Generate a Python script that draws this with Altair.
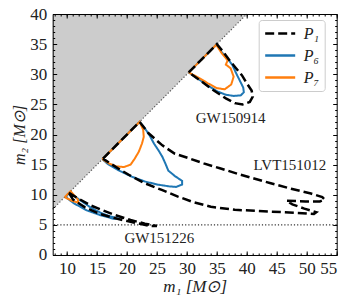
import altair as alt
import pandas as pd

# ---------------- data ----------------
X_DOMAIN = [7.6, 55]
Y_DOMAIN = [0, 40]
X_MAJOR = [10, 15, 20, 25, 30, 35, 40, 45, 50, 55]
Y_MAJOR = [0, 5, 10, 15, 20, 25, 30, 35, 40]
X_MINOR = list(range(8, 56))
Y_MINOR = list(range(0, 41))

series_names = ["P₁", "P₆", "P₇"]
series_colors = ["black", "#1f77b4", "#ff7f0e"]

# GW150914
P1_GW150914_m1 = [30.3, 35.0, 36.0, 37.2, 38.2, 39.2, 40.0, 40.8, 41.0, 40.5, 39.3, 38.0, 36.5, 34.5, 32.3, 30.3]
P1_GW150914_m2 = [30.3, 35.0, 33.8, 32.2, 31.0, 29.8, 28.5, 27.3, 26.3, 25.4, 25.0, 25.2, 26.0, 27.3, 28.9, 30.3]
P6_GW150914_m1 = [30.3, 35.0, 35.7, 36.8, 37.6, 38.2, 38.8, 39.4, 39.5, 39.0, 37.8, 36.5, 35.2, 33.5, 31.8, 30.3]
P6_GW150914_m2 = [30.3, 35.0, 33.8, 32.6, 31.5, 30.2, 29.0, 27.8, 27.0, 26.5, 26.4, 26.6, 27.1, 28.1, 29.3, 30.3]
P7_GW150914_m1 = [30.3, 34.9, 35.8, 36.8, 36.5, 37.3, 37.8, 37.4, 36.3, 35.0, 33.5, 32.0, 30.3]
P7_GW150914_m2 = [30.3, 34.9, 33.5, 32.3, 31.6, 31.0, 29.6, 28.3, 27.5, 27.7, 28.5, 29.4, 30.3]

# LVT151012
P1_LVT151012_m1 = [16.0, 22.1, 23.6, 25.9, 28.0, 30.5, 32.8, 35.5, 38.4, 41.2, 44.0, 47.4, 50.7, 52.6, 53.0, 52.2,
                   49.8, 46.6, 47.6, 49.6, 51.6, 51.2, 50.0, 46.0, 42.0, 38.0, 34.0, 31.0, 28.5, 25.8, 23.0, 20.5,
                   18.8, 17.2, 16.0]
P1_LVT151012_m2 = [16.0, 22.1, 20.2, 18.2, 16.8, 16.0, 15.2, 14.4, 13.5, 12.7, 11.9, 11.0, 10.2, 9.6, 9.2, 8.9,
                   8.9, 9.0, 8.4, 7.7, 7.1, 6.8, 6.9, 7.1, 7.3, 7.5, 8.0, 8.8, 9.7, 10.8, 11.9, 13.2,
                   14.2, 15.2, 16.0]
P6_LVT151012_m1 = [15.9, 22.1, 23.0, 23.8, 24.5, 25.3, 25.9, 26.4, 26.9, 28.0, 29.2, 29.2, 28.2, 27.0, 25.0, 23.0,
                   20.8, 18.5, 16.8, 15.9]
P6_LVT151012_m2 = [15.9, 22.1, 21.0, 19.8, 18.5, 17.3, 16.3, 15.2, 14.0, 13.1, 12.3, 11.7, 11.3, 11.4, 11.7, 12.2,
                   13.0, 14.1, 15.1, 15.9]
P7_LVT151012_m1 = [15.9, 22.1, 22.7, 22.8, 22.5, 22.0, 21.3, 20.6, 19.5, 18.2, 17.0, 15.9]
P7_LVT151012_m2 = [15.9, 22.1, 20.8, 19.6, 18.5, 17.2, 16.0, 15.0, 14.6, 14.7, 15.2, 15.9]

# GW151226
P1_GW151226_m1 = [10.3, 12.0, 14.0, 15.5, 17.8, 20.6, 23.0, 25.0, 24.0, 21.1, 18.4, 15.5, 13.0, 11.0, 10.3]
P1_GW151226_m2 = [10.3, 9.3, 8.2, 7.6, 6.7, 5.8, 5.2, 4.8, 4.8, 5.4, 6.0, 6.8, 7.9, 9.2, 10.3]
P6_GW151226_m1 = [10.4, 11.9, 13.9, 15.6, 17.2, 18.8, 17.8, 15.6, 13.3, 11.1, 9.8, 10.4]
P6_GW151226_m2 = [10.4, 9.3, 7.9, 7.0, 6.4, 6.0, 6.0, 6.6, 7.4, 8.6, 9.6, 10.4]
P7_GW151226_m1 = [9.6, 10.6, 11.1, 11.8, 11.9, 10.8, 9.6]
P7_GW151226_m2 = [9.6, 10.6, 10.0, 9.2, 8.7, 9.0, 9.6]

label_text = ["GW150914", "LVT151012", "GW151226"]
label_m1 = [37.3, 47.2, 25.4]
label_m2 = [22.8, 14.9, 2.9]

diag_m = [7.6, 40.0]
fill_top = [40.0, 40.0]
hline_m2 = [5.0]

# ---------------- tables ----------------
contours = [
    ("P₁", "GW150914", P1_GW150914_m1, P1_GW150914_m2),
    ("P₆", "GW150914", P6_GW150914_m1, P6_GW150914_m2),
    ("P₇", "GW150914", P7_GW150914_m1, P7_GW150914_m2),
    ("P₁", "LVT151012", P1_LVT151012_m1, P1_LVT151012_m2),
    ("P₆", "LVT151012", P6_LVT151012_m1, P6_LVT151012_m2),
    ("P₇", "LVT151012", P7_LVT151012_m1, P7_LVT151012_m2),
    ("P₁", "GW151226", P1_GW151226_m1, P1_GW151226_m2),
    ("P₆", "GW151226", P6_GW151226_m1, P6_GW151226_m2),
    ("P₇", "GW151226", P7_GW151226_m1, P7_GW151226_m2),
]
rows = []
for s, ev, xs, ys in contours:
    for i, (a, b) in enumerate(zip(xs, ys)):
        rows.append({"series": s, "event": ev, "idx": i, "m1": a, "m2": b})
cdf = pd.DataFrame(rows)
lab_df = pd.DataFrame({"text": label_text, "m1": label_m1, "m2": label_m2})
diag_df = pd.DataFrame({"m1": diag_m, "m2": diag_m, "top": fill_top})
h_df = pd.DataFrame({"m2": hline_m2})

xs_ = alt.Scale(domain=X_DOMAIN, nice=False, zero=False)
ys_ = alt.Scale(domain=Y_DOMAIN, nice=False, zero=False)
FONT = "Liberation Serif"

color = alt.Color("series:N", scale=alt.Scale(domain=series_names, range=series_colors),
                  legend=alt.Legend(title=None))
dash = alt.StrokeDash("series:N", scale=alt.Scale(domain=series_names, range=[[9, 4], [1, 0], [1, 0]]),
                      legend=alt.Legend(title=None))

fill = alt.Chart(diag_df).mark_area(color="#cccccc", opacity=1).encode(
    x=alt.X("m1:Q", scale=xs_, axis=None),
    y=alt.Y("m2:Q", scale=ys_, axis=None),
    y2="top:Q",
)
diag = alt.Chart(diag_df).mark_line(color="#555555", strokeDash=[1.2, 2], strokeWidth=1.2).encode(
    x=alt.X("m1:Q", scale=xs_, axis=None),
    y=alt.Y("m2:Q", scale=ys_, axis=None),
)
hline = alt.Chart(h_df).mark_rule(color="#333333", strokeDash=[1.2, 2], strokeWidth=1.2).encode(
    y=alt.Y("m2:Q", scale=ys_, axis=None),
)
colored = alt.Chart(cdf).transform_filter(alt.datum.series != "P₁").mark_line(strokeWidth=2).encode(
    x=alt.X("m1:Q", scale=xs_, axis=None),
    y=alt.Y("m2:Q", scale=ys_, axis=None),
    color=color, strokeDash=dash, detail="event:N", order="idx:Q",
)
black = alt.Chart(cdf).transform_filter(alt.datum.series == "P₁").mark_line(strokeWidth=2.5).encode(
    x=alt.X("m1:Q", scale=xs_, axis=None),
    y=alt.Y("m2:Q", scale=ys_, axis=None),
    color=color, strokeDash=dash, detail="event:N", order="idx:Q",
)
labels = alt.Chart(lab_df).mark_text(font=FONT, fontSize=15, color="#222222").encode(
    x=alt.X("m1:Q", scale=xs_, axis=None),
    y=alt.Y("m2:Q", scale=ys_, axis=None),
    text="text:N",
)


def ax_layer(xaxis, yaxis):
    return alt.Chart(lab_df).mark_point(opacity=0).encode(
        x=alt.X("m1:Q", scale=xs_, axis=xaxis),
        y=alt.Y("m2:Q", scale=ys_, axis=yaxis),
    )


common = dict(grid=False, domain=False, tickColor="black", tickWidth=1, zindex=2)
major_x = alt.Axis(orient="bottom", values=X_MAJOR, tickSize=4, offset=-4, labelPadding=6,
                   labelFont=FONT, labelFontSize=17, labelColor="#222222",
                   title="m₁  [M⊙]", titleFont=FONT, titleFontSize=17, titleFontStyle="italic",
                   titleFontWeight="normal", titleColor="#222222", titlePadding=2, **common)
major_y = alt.Axis(orient="left", values=Y_MAJOR, tickSize=4, offset=-4, labelPadding=6,
                   labelFont=FONT, labelFontSize=17, labelColor="#222222",
                   title="m₂  [M⊙]", titleFont=FONT, titleFontSize=16, titleFontStyle="italic",
                   titleFontWeight="normal", titleColor="#222222", titlePadding=2, **common)
major_top = alt.Axis(orient="top", values=X_MAJOR, tickSize=4, offset=-4, labels=False, title=None, **common)
major_right = alt.Axis(orient="right", values=Y_MAJOR, tickSize=4, offset=-4, labels=False, title=None, **common)
minor_x = alt.Axis(orient="bottom", values=X_MINOR, tickSize=2, offset=-2, labels=False, title=None, **common)
minor_y = alt.Axis(orient="left", values=Y_MINOR, tickSize=2, offset=-2, labels=False, title=None, **common)
minor_top = alt.Axis(orient="top", values=X_MINOR, tickSize=2, offset=-2, labels=False, title=None, **common)
minor_right = alt.Axis(orient="right", values=Y_MINOR, tickSize=2, offset=-2, labels=False, title=None, **common)
dom = dict(grid=False, domain=True, domainColor="black", domainWidth=1, ticks=False, labels=False,
           title=None, zindex=3)
dom_x = alt.Axis(orient="bottom", **dom)
dom_y = alt.Axis(orient="left", **dom)
dom_top = alt.Axis(orient="top", **dom)
dom_right = alt.Axis(orient="right", **dom)

chart = alt.layer(
    fill, diag, hline, colored, black, labels,
    ax_layer(major_x, major_y),
    ax_layer(major_top, major_right),
    ax_layer(minor_x, minor_y),
    ax_layer(minor_top, minor_right),
    ax_layer(dom_x, dom_y),
    ax_layer(dom_top, dom_right),
).resolve_axis(x="independent", y="independent").properties(
    width=284, height=241,
    autosize=alt.AutoSizeParams(type="none"),
    padding={"left": 44.7, "top": 6, "right": 8, "bottom": 45},
).configure_view(stroke=None).configure_legend(
    orient="none", legendX=206, legendY=6,
    strokeColor="#cccccc", fillColor="white", cornerRadius=3, padding=5,
    symbolType="stroke", symbolSize=900, symbolStrokeWidth=2.5,
    clipHeight=17, rowPadding=5,
    labelFont=FONT, labelFontSize=16, labelFontStyle="italic", labelColor="#222222",
    labelOffset=7,
)

chart.save("out.html", embed_options={"renderer": "svg", "actions": False})
